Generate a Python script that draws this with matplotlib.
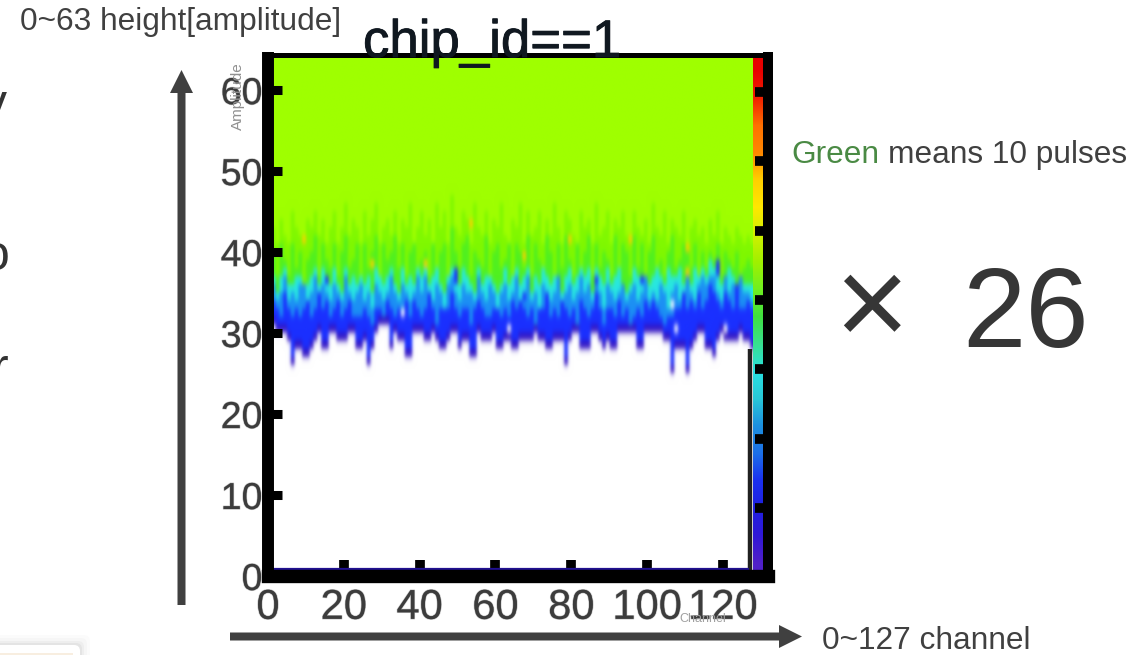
import numpy as np
import matplotlib
matplotlib.use('Agg')
import matplotlib.pyplot as plt
import matplotlib.patheffects as pe
from matplotlib.colors import to_rgb
from matplotlib.patches import FancyArrow, FancyBboxPatch, Rectangle

plt.rcParams['font.family'] = ['Liberation Sans', 'DejaVu Sans']

# values, one per channel (0..127)
floor = [31,31,30,30,30,29,26,28,28,27,27,28,29,30,28,28,
         30,30,29,29,29,30,30,28,28,29,26,28,30,31,31,31,
         28,30,29,29,27,27,30,30,30,29,29,30,29,28,28,29,
         30,30,28,29,29,27,27,30,29,29,29,30,28,28,29,29,
         28,28,29,29,29,29,30,29,29,28,28,29,29,29,26,29,
         30,30,28,28,28,30,30,29,28,29,28,28,30,30,30,30,
         30,28,28,30,30,30,30,30,29,29,25,28,28,28,25,28,
         29,30,30,28,28,27,29,30,29,29,29,29,30,29,29,28]
blue_top = [33,34,33,32,35,33,32,33,32,33,35,32,33,35,33,34,
            32,33,34,32,33,34,32,32,32,33,32,31,33,33,32,34,
            33,32,33,32,34,32,34,33,32,33,35,33,31,33,34,33,
            35,33,32,33,33,31,33,34,33,32,32,33,34,32,33,32,
            34,33,34,33,32,33,31,33,33,35,32,33,32,34,33,32,
            33,31,34,33,32,33,35,33,31,33,33,32,34,32,33,31,
            32,33,32,34,33,34,33,32,31,32,32,33,33,35,33,34,
            33,35,33,34,36,35,34,33,35,34,33,35,33,33,34,33]
azure_top = [35,36,34,35,37,34,35,34,36,36,34,35,37,35,36,35,
             34,36,35,34,37,35,34,35,36,34,35,33,36,35,34,35,
             37,35,34,36,35,34,35,37,35,37,35,34,36,35,33,36,
             37,35,34,36,35,35,34,37,35,34,36,35,33,35,36,34,
             35,37,34,35,37,34,35,33,36,35,34,35,37,34,35,36,
             34,35,37,35,36,34,36,35,33,36,35,34,35,37,34,35,
             36,34,35,37,34,35,34,36,35,33,35,36,34,35,37,35,
             34,36,37,36,37,37,35,34,37,35,36,35,37,35,35,34]
cyan_top = [36,37,35,37,38,36,36,37,37,38,36,37,38,36,38,37,
            36,38,36,35,38,36,37,36,38,36,37,35,38,37,36,37,
            38,36,35,38,36,37,36,38,37,39,36,37,38,36,35,38,
            38,37,36,38,37,36,35,38,36,37,38,36,35,36,38,36,
            37,38,36,37,38,35,37,36,38,37,36,38,37,35,37,38,
            36,37,38,37,38,35,38,37,36,38,36,37,38,36,35,36,
            38,37,36,38,36,37,38,37,36,38,37,37,38,36,37,36,
            38,37,38,37,39,38,37,36,37,38,37,36,37,36,36,36]
green_top = [38,40,37,41,39,37,41,38,40,36,39,40,42,37,41,39,
             38,41,37,40,42,38,39,41,37,41,38,40,42,37,41,39,
             40,42,38,41,37,40,42,38,39,40,37,42,38,40,41,37,
             43,40,38,41,42,37,40,39,38,42,37,40,41,38,39,42,
             37,41,40,38,42,37,41,39,38,42,40,37,41,38,42,39,
             37,41,38,40,42,37,41,38,40,39,37,42,38,41,40,37,
             42,38,41,37,40,42,38,39,37,40,42,38,39,41,40,38,
             41,37,40,38,40,39,41,37,40,39,38,40,37,38,39,38]
limegreen_top = [42,43,41,44,42,41,45,43,42,41,44,43,45,42,44,41,
                 43,45,41,43,46,42,44,43,41,45,42,44,46,41,43,44,
                 42,45,41,44,43,46,41,43,45,42,44,41,46,43,45,41,
                 47,43,42,45,44,41,46,43,42,45,41,44,43,46,42,41,
                 44,43,46,41,45,42,43,45,41,44,42,46,43,41,45,44,
                 42,41,45,43,44,41,46,42,43,45,41,44,43,45,42,41,
                 45,43,42,44,41,46,43,42,45,41,44,43,42,45,41,43,
                 44,42,43,41,44,42,45,41,43,42,41,43,42,41,42,41]
hot_spots = [(9, 41), (27, 38), (41, 38), (49, 37), (53, 43), (67, 39), (79, 41), (95, 41), (110, 40), (110, 37)]
blue_spikes = [(15, 36), (49, 37), (49, 36), (67, 34), (86, 36), (98, 36), (118, 38), (118, 37), (123, 35)]
holes = [(35, 32), (63, 30), (106, 33), (107, 30), (120, 30)]

band_colors = ['#3010c0', '#1a30ff', '#1c90f4', '#28e8e0', '#50f020', '#80f800', '#9fff00', '#ffd000']
palette_colors = ['#5020c8', '#3018d8', '#2020e0', '#1a30f0', '#1c70e8', '#1c90e0', '#28c8d8', '#28e0e0',
                  '#38e090', '#40e040', '#70f020', '#a0f000', '#d0f000', '#ffe800', '#ffd000', '#ff8800',
                  '#ff7000', '#f02000', '#e80000']
x_ticks = [0, 20, 40, 60, 80, 100, 120]
y_ticks = [0, 10, 20, 30, 40, 50, 60]
palette_ticks = [1, 2, 3, 4, 5, 6, 7]

# per-cell grid, -1 stays white
grid = np.full((64, 128), -1, dtype=int)
for c in range(128):
    grid[floor[c], c] = 0
    grid[floor[c] + 1:blue_top[c], c] = 1
    grid[blue_top[c]:azure_top[c], c] = 2
    grid[azure_top[c]:cyan_top[c], c] = 3
    grid[cyan_top[c]:green_top[c], c] = 4
    grid[green_top[c]:limegreen_top[c], c] = 5
    grid[limegreen_top[c]:, c] = 6
for c, h in hot_spots:
    grid[h, c] = 7
for c, h in blue_spikes:
    grid[h, c] = 1
for c, h in holes:
    grid[h, c] = -1

rgb = np.ones((64, 128, 3))
for i, col in enumerate(band_colors):
    rgb[grid == i] = to_rgb(col)
palette = np.array([[to_rgb(col)] for col in palette_colors])

fig = plt.figure(figsize=(11.47, 6.55), dpi=100)
W, H = 1147, 655

# main plot, placed in pixels
left, right, top, bottom = 268, 768, 54.5, 576
ax = fig.add_axes([left / W, 1 - bottom / H, (right - left) / W, (bottom - top) / H])
ax.imshow(rgb, origin='lower', extent=(0, 128, 0, 64), aspect='auto', interpolation='gaussian')
ax.imshow(palette, origin='lower', extent=(128, 130.7, 0, 64), aspect='auto', interpolation='bilinear')
ax.vlines(127.2, 0, 28, color='#202020', lw=3.2)
ax.hlines(0.9, 0, 127, color='#201090', lw=1.6)
ax.set_xlim(0, 131.9)
ax.set_ylim(0, 64.4)

ax.spines['left'].set_linewidth(8.6)
ax.spines['right'].set_linewidth(7.2)
ax.spines['top'].set_linewidth(3.6)
ax.spines['bottom'].set_linewidth(9.6)
for side in ['left', 'right']:
    ax.spines[side].set_capstyle('butt')
    ax.spines[side].set_bounds(0, 64.7)

label_fx = [pe.withStroke(linewidth=1.0, foreground='#99999988')]
ax.set_xticks(x_ticks)
ax.set_yticks(y_ticks)
ax.tick_params(axis='x', direction='in', length=11.5, width=7, pad=8.5, labelsize=30, labelcolor='#3c3c3c')
ax.tick_params(axis='y', direction='in', length=10, width=6.5, pad=4, labelsize=27, labelcolor='#3c3c3c')
for t in ax.get_xticklabels() + ax.get_yticklabels():
    t.set_path_effects(label_fx)

# ticks of the colour palette on the right edge
ax2 = ax.twinx()
ax2.set_ylim(0.02, 7.54)
ax2.set_yticks(palette_ticks)
ax2.set_yticklabels([])
ax2.tick_params(axis='y', direction='in', length=9.4, width=7, right=True, color='black')
for s in ax2.spines.values():
    s.set_visible(False)

# everything around the plot, in pixel coordinates
ov = fig.add_axes([0, 0, 1, 1], zorder=10)
ov.set_xlim(0, W)
ov.set_ylim(H, 0)
ov.axis('off')

dark = '#404040'
ov.text(363, 57, 'chip_id==1', fontsize=38, color='#101820', ha='left', va='baseline',
        path_effects=[pe.withStroke(linewidth=0.6, foreground='#101820')])
ov.text(20, 30, '0~63 height[amplitude]', fontsize=22.8, color=dark, ha='left', va='baseline')
ov.text(791, 163, 'Green', fontsize=22.8, color='#4a8a44', ha='left', va='baseline')
ov.text(888, 163, 'means 10 pulses', fontsize=22.8, color=dark, ha='left', va='baseline')
ov.text(871, 313, '×', fontsize=92, color='#363636', ha='center', va='center')
ov.text(962, 347, '26', fontsize=82, color='#363636', ha='left', va='baseline')
ov.text(822, 649, '0~127 channel', fontsize=22.8, color=dark, ha='left', va='baseline')

# faint axis titles of the pasted plot
ov.text(238, 96, 'Amplitude', fontsize=11, color='#909090', rotation=90, ha='center', va='center')
ov.text(703, 619, 'Channel', fontsize=9, color='#a0a0a0', ha='center', va='center')

ov.add_patch(FancyArrow(181.5, 605, 0, -535, width=8, head_width=23, head_length=23,
                        length_includes_head=True, color=dark, lw=0))
ov.add_patch(FancyArrow(230, 636.5, 572, 0, width=8, head_width=23, head_length=23,
                        length_includes_head=True, color=dark, lw=0))

# letters cut off by the left edge
ov.text(7, 119, 'y', fontsize=36, color='#333333', ha='right', va='baseline')
ov.text(10, 270, 'o', fontsize=36, color='#333333', ha='right', va='baseline')
ov.text(8, 383, 'r', fontsize=36, color='#333333', ha='right', va='baseline')

# bottom left box, mostly outside the picture
for grow, alpha in zip([10, 7, 4, 2], [0.015, 0.02, 0.03, 0.04]):
    ov.add_patch(FancyBboxPatch((-30, 645 - grow), 110 + grow, 40, boxstyle='round,pad=0,rounding_size=6',
                                fc='black', ec='none', alpha=alpha))
ov.add_patch(FancyBboxPatch((-30, 645), 110, 40, boxstyle='round,pad=0,rounding_size=6', fc='white', ec='none'))
ov.add_patch(Rectangle((-5, 652.5), 78, 10, fc='#f8eee0', ec='none'))

fig.savefig('out.png', dpi=100)
